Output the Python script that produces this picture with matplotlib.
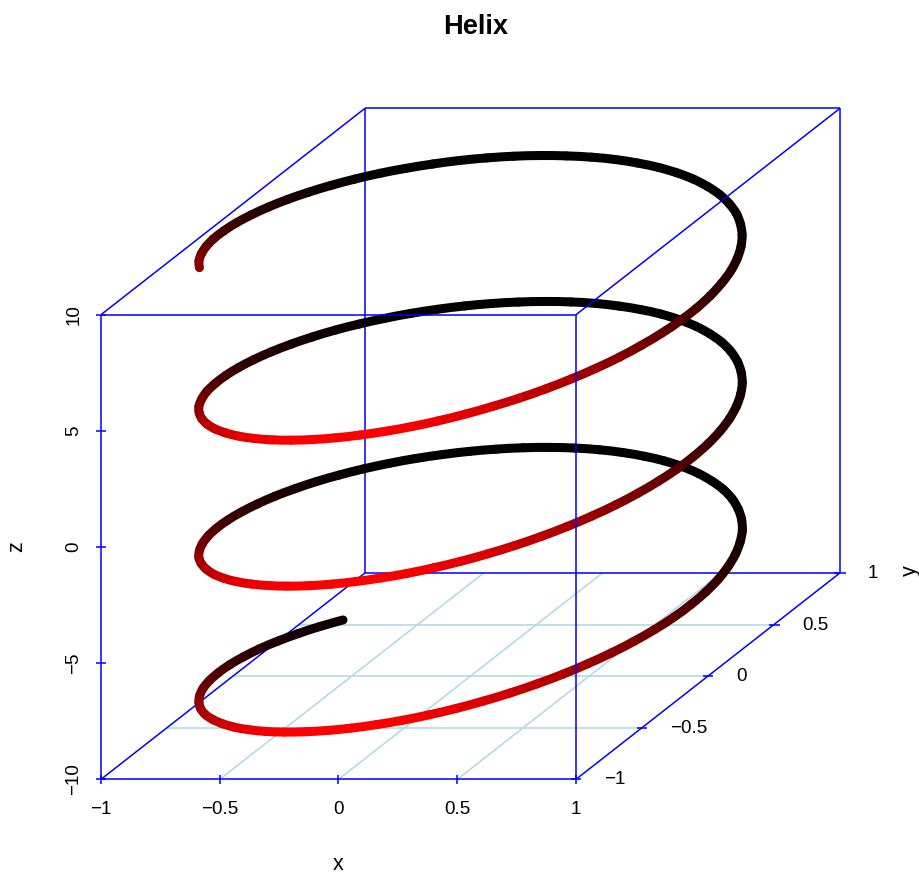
import numpy as np
import matplotlib
matplotlib.use("Agg")
import matplotlib.pyplot as plt
from matplotlib.collections import PathCollection
from matplotlib.path import Path
from matplotlib.colors import LinearSegmentedColormap, Normalize

plt.rcParams['font.family'] = ['Liberation Sans', 'DejaVu Sans']

helix_z = [
 -10.0,-9.9,-9.8,-9.7,-9.6,-9.5,-9.4,-9.3,-9.2,-9.1,
 -9.0,-8.9,-8.8,-8.7,-8.6,-8.5,-8.4,-8.3,-8.2,-8.1,
 -8.0,-7.9,-7.8,-7.7,-7.6,-7.5,-7.4,-7.3,-7.2,-7.1,
 -7.0,-6.9,-6.8,-6.7,-6.6,-6.5,-6.4,-6.3,-6.2,-6.1,
 -6.0,-5.9,-5.8,-5.7,-5.6,-5.5,-5.4,-5.3,-5.2,-5.1,
 -5.0,-4.9,-4.8,-4.7,-4.6,-4.5,-4.4,-4.3,-4.2,-4.1,
 -4.0,-3.9,-3.8,-3.7,-3.6,-3.5,-3.4,-3.3,-3.2,-3.1,
 -3.0,-2.9,-2.8,-2.7,-2.6,-2.5,-2.4,-2.3,-2.2,-2.1,
 -2.0,-1.9,-1.8,-1.7,-1.6,-1.5,-1.4,-1.3,-1.2,-1.1,
 -1.0,-0.9,-0.8,-0.7,-0.6,-0.5,-0.4,-0.3,-0.2,-0.1,
 0.0,0.1,0.2,0.3,0.4,0.5,0.6,0.7,0.8,0.9,
 1.0,1.1,1.2,1.3,1.4,1.5,1.6,1.7,1.8,1.9,
 2.0,2.1,2.2,2.3,2.4,2.5,2.6,2.7,2.8,2.9,
 3.0,3.1,3.2,3.3,3.4,3.5,3.6,3.7,3.8,3.9,
 4.0,4.1,4.2,4.3,4.4,4.5,4.6,4.7,4.8,4.9,
 5.0,5.1,5.2,5.3,5.4,5.5,5.6,5.7,5.8,5.9,
 6.0,6.1,6.2,6.3,6.4,6.5,6.6,6.7,6.8,6.9,
 7.0,7.1,7.2,7.3,7.4,7.5,7.6,7.7,7.8,7.9,
 8.0,8.1,8.2,8.3,8.4,8.5,8.6,8.7,8.8,8.9,
 9.0,9.1,9.2,9.3,9.4,9.5,9.6,9.7,9.8,9.9,
 10.0]

helix_x = [
 -.839,-.889,-.930,-.962,-.985,-.997,-1.0,-.992,-.975,-.948,
 -.911,-.865,-.811,-.749,-.680,-.602,-.519,-.432,-.340,-.245,
 -.146,-.046,.054,.153,.252,.347,.439,.526,.608,.684,
 .754,.815,.869,.914,.950,.977,.993,1.0,.997,.983,
 .960,.927,.886,.835,.776,.709,.635,.554,.469,.378,
 .284,.187,.087,-.012,-.112,-.211,-.307,-.401,-.490,-.575,
 -.654,-.726,-.791,-.848,-.897,-.936,-.967,-.987,-.998,-.999,
 -.990,-.971,-.942,-.904,-.857,-.801,-.737,-.666,-.589,-.505,
 -.416,-.323,-.227,-.129,-.029,.071,.170,.267,.362,.454,
 .540,.622,.697,.765,.825,.878,.921,.955,.980,.995,
 1.0,.995,.980,.955,.921,.878,.825,.765,.697,.622,
 .540,.454,.362,.267,.170,.071,-.029,-.129,-.227,-.323,
 -.416,-.505,-.589,-.666,-.737,-.801,-.857,-.904,-.942,-.971,
 -.990,-.999,-.998,-.987,-.967,-.936,-.897,-.848,-.791,-.726,
 -.654,-.575,-.490,-.401,-.307,-.211,-.112,-.012,.087,.187,
 .284,.378,.469,.554,.635,.709,.776,.835,.886,.927,
 .960,.983,.997,1.0,.993,.977,.950,.914,.869,.815,
 .754,.684,.608,.526,.439,.347,.252,.153,.054,-.046,
 -.146,-.245,-.340,-.432,-.519,-.602,-.680,-.749,-.811,-.865,
 -.911,-.948,-.975,-.992,-1.0,-.997,-.985,-.962,-.930,-.889,
 -.839]

helix_y = [
 .544,.458,.366,.272,.175,.075,-.025,-.125,-.223,-.319,
 -.412,-.501,-.585,-.663,-.733,-.798,-.855,-.902,-.941,-.970,
 -.989,-.999,-.999,-.988,-.968,-.938,-.899,-.850,-.794,-.729,
 -.657,-.578,-.494,-.405,-.312,-.215,-.117,-.017,.083,.182,
 .279,.374,.465,.551,.631,.706,.773,.832,.883,.926,
 .959,.982,.996,1.0,.994,.978,.952,.916,.872,.818,
 .757,.688,.612,.530,.443,.351,.256,.158,.058,-.042,
 -.141,-.239,-.335,-.427,-.516,-.598,-.675,-.746,-.808,-.863,
 -.909,-.946,-.974,-.992,-1.0,-.997,-.985,-.964,-.932,-.891,
 -.841,-.783,-.717,-.644,-.565,-.479,-.389,-.296,-.199,-.100,
 0.0,.100,.199,.296,.389,.479,.565,.644,.717,.783,
 .841,.891,.932,.964,.985,.997,1.0,.992,.974,.946,
 .909,.863,.808,.746,.675,.598,.516,.427,.335,.239,
 .141,.042,-.058,-.158,-.256,-.351,-.443,-.530,-.612,-.688,
 -.757,-.818,-.872,-.916,-.952,-.978,-.994,-1.0,-.996,-.982,
 -.959,-.926,-.883,-.832,-.773,-.706,-.631,-.551,-.465,-.374,
 -.279,-.182,-.083,.017,.117,.215,.312,.405,.494,.578,
 .657,.729,.794,.850,.899,.938,.968,.988,.999,.999,
 .989,.970,.941,.902,.855,.798,.733,.663,.585,.501,
 .412,.319,.223,.125,.025,-.075,-.175,-.272,-.366,-.458,
 -.544]

depth_y = [-1.0, -0.8, -0.6, -0.4, -0.2, 0.0, 0.2, 0.4, 0.6, 0.8, 1.0]
depth_red = [255, 202, 156, 116, 83, 56, 34, 18, 7, 2, 0]

x_ticks = [-1, -0.5, 0, 0.5, 1]
y_ticks = [-1, -0.5, 0, 0.5, 1]
z_ticks = [-10, -5, 0, 5, 10]
x_labels = ['\u22121', '\u22120.5', '0', '0.5', '1']
y_labels = ['\u22121', '\u22120.5', '0', '0.5', '1']
z_labels = ['\u221210', '\u22125', '0', '5', '10']

W, H = 920, 874
PX_X, PX_Z = 237.5, 23.23      # pixels per x unit, per z unit
X0_PX, Z0_PX = 101.0, 779.3    # pixel position of x=-1, z=-10 at the front
SHEAR_U, SHEAR_V = 132.0 / PX_X, 103.2 / PX_Z  # oblique shift per unit of y

def proj(x, y, z):
    x, y, z = np.asarray(x, float), np.asarray(y, float), np.asarray(z, float)
    return x + (y + 1) * SHEAR_U, z + (y + 1) * SHEAR_V

fig = plt.figure(figsize=(W / 100, H / 100), dpi=100)
ax = fig.add_axes([0, 0, 1, 1])
ax.set_xlim(-1 - X0_PX / PX_X, -1 + (W - X0_PX) / PX_X)
ax.set_ylim(-10 - (H - Z0_PX) / PX_Z, -10 + Z0_PX / PX_Z)
ax.axis('off')

BLUE = '#0000FF'
GRID = '#ADD8E6'
LW = 1.1

def seg3(a, b, color=BLUE, z=2):
    u, v = proj([a[0], b[0]], [a[1], b[1]], [a[2], b[2]])
    ax.plot(u, v, color=color, lw=LW, zorder=z, solid_capstyle='butt')

xa, xb = x_ticks[0], x_ticks[-1]
ya, yb = y_ticks[0], y_ticks[-1]
za, zb = z_ticks[0], z_ticks[-1]

# floor grid
for t in x_ticks[1:-1]:
    seg3((t, ya, za), (t, yb, za), GRID, 1)
for t in y_ticks[1:-1]:
    seg3((xa, t, za), (xb, t, za), GRID, 1)

# box parts behind the points
seg3((xa, ya, za), (xb, ya, za))
seg3((xa, ya, za), (xa, yb, za))
seg3((xb, ya, za), (xb, yb, za))
seg3((xa, yb, za), (xb, yb, za))
seg3((xa, yb, za), (xa, yb, zb))
seg3((xb, yb, za), (xb, yb, zb))
seg3((xa, yb, zb), (xb, yb, zb))
seg3((xa, ya, zb), (xa, yb, zb))

# helix, far pieces first; each piece is a curved stroke through the read points
cmap = LinearSegmentedColormap.from_list(
    'depth', [((v + 1) / 2, (r / 255, 0, 0)) for v, r in zip(depth_y, depth_red)], N=512)
norm = Normalize(-1, 1)
u, v = proj(helix_x, helix_y, helix_z)
pts = np.column_stack([u, v])
n = len(pts)
paths = []
for i in range(n - 1):
    p0 = pts[max(i - 1, 0)]
    p1, p2 = pts[i], pts[i + 1]
    p3 = pts[min(i + 2, n - 1)]
    c1 = p1 + (p2 - p0) / 6
    c2 = p2 - (p3 - p1) / 6
    paths.append(Path([p1, c1, c2, p2], [Path.MOVETO, Path.CURVE4, Path.CURVE4, Path.CURVE4]))
ym = (np.array(helix_y[:-1]) + np.array(helix_y[1:])) / 2
order = np.argsort(-ym)
pc = PathCollection([paths[i] for i in order], facecolors='none',
                    edgecolors=cmap(norm(ym[order])), linewidths=6.5,
                    capstyle='round', zorder=3, transform=ax.transData)
pc.set_snap(False)
ax.add_collection(pc, autolim=False)

# box parts in front of the points
seg3((xa, ya, za), (xa, ya, zb), z=4)
seg3((xb, ya, za), (xb, ya, zb), z=4)
seg3((xa, ya, zb), (xb, ya, zb), z=4)
seg3((xb, ya, zb), (xb, yb, zb), z=4)

def tick(x, y, z, dx, dy):
    """short tick through an axis point, half-lengths in pixels"""
    u0, v0 = proj(x, y, z)
    ax.plot([u0 - dx / PX_X, u0 + dx / PX_X], [v0 - dy / PX_Z, v0 + dy / PX_Z],
            color=BLUE, lw=LW, zorder=4, solid_capstyle='butt')

def label(x, y, z, s, off, **kw):
    u0, v0 = proj(x, y, z)
    ax.annotate(s, (u0, v0), xytext=(off[0] * 0.72, off[1] * 0.72),
                textcoords='offset points', fontsize=13.6, color='black',
                annotation_clip=False, **kw)

for t, s in zip(x_ticks, x_labels):
    tick(t, ya, za, 0, 4.5)
    label(t, ya, za, s, (0, -30), ha='center', va='center')
for t, s in zip(y_ticks, y_labels):
    tick(xb, t, za, 5.5, 0)
    label(xb, t, za, s, (28, -0.5), ha='left', va='center')
for t, s in zip(z_ticks, z_labels):
    tick(xa, ya, t, 5, 0)
    label(xa, ya, t, s, (-27, 0), ha='center', va='center', rotation=90)

fig.text(476 / W, 1 - 26.5 / H, 'Helix', fontsize=19.6, fontweight='bold',
         ha='center', va='center')
fig.text(338 / W, 1 - 864 / H, 'x', fontsize=15.5, ha='center', va='center')
fig.text(17 / W, 1 - 547 / H, 'z', fontsize=15.5, ha='center', va='center', rotation=90)
fig.text(910 / W, 1 - 571 / H, 'y', fontsize=15.5, ha='center', va='center', rotation=90)

fig.savefig('out.png', dpi=100)
